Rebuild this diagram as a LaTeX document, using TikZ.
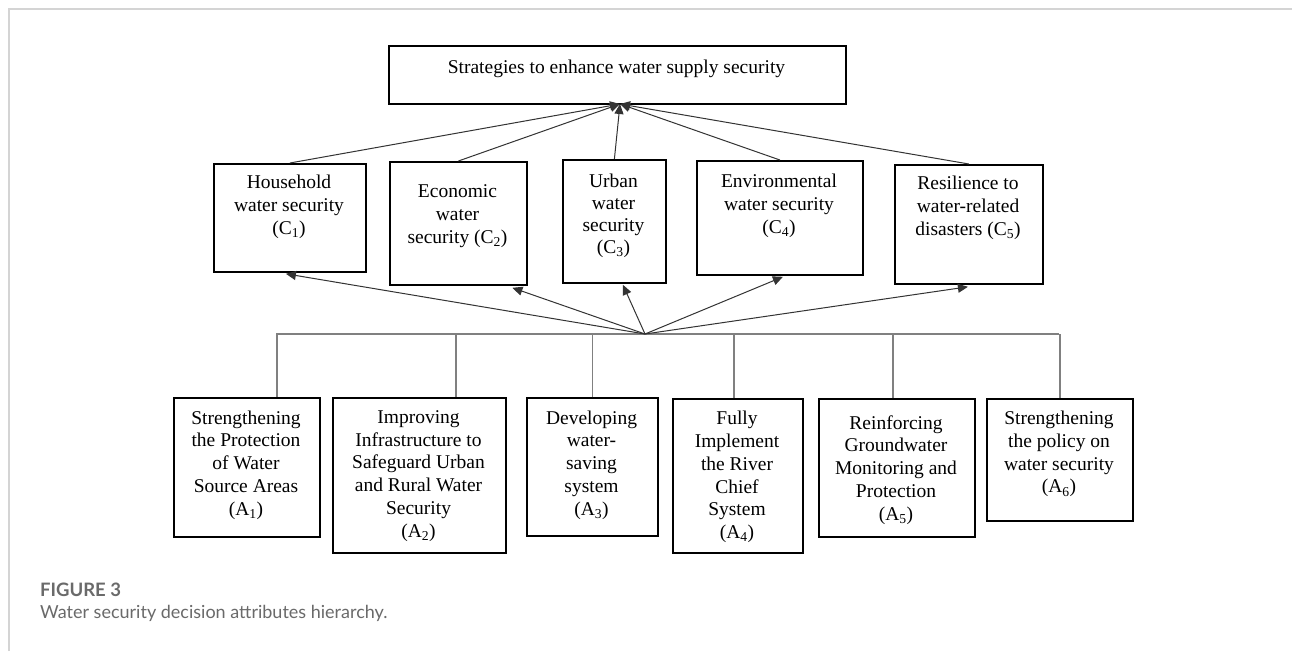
\documentclass[tikz,border=0pt]{standalone}
\usepackage{fontspec}
\setmainfont{Liberation Serif}
\newfontfamily\capfont{Lato}
\usetikzlibrary{arrows.meta}
\definecolor{framegray}{HTML}{D4D4D4}
\definecolor{capgray}{HTML}{6A6A6A}
\begin{document}
\begin{tikzpicture}[x=1pt,y=-1pt,
  box/.style={draw=black, line width=1.8pt, inner sep=0pt, anchor=north west},
  txt/.style={align=center, font=\fontsize{19.5}{22.8}\selectfont, inner sep=0pt},
  arr/.style={draw=black!80, line width=1pt, -{Triangle[length=10pt,width=9pt]}},
  busline/.style={draw=black!50, line width=1.3pt}]
\useasboundingbox (0,0) rectangle (1292,651);
\fill[white] (0,0) rectangle (1292,651);
% frame
\draw[framegray, line width=2pt] (9,651) -- (9,9) -- (1292,9);

% top
\node[box, minimum width=457pt, minimum height=58pt] (top) at (388,45) {};
\node[txt] (topt) at (616.5,69) {Strategies to enhance water supply security};

% criteria
\node[box, minimum width=152pt, minimum height=108pt] (c1) at (213,163) {};
\node[box, minimum width=137pt, minimum height=123pt] (c2) at (389,161) {};
\node[box, minimum width=103pt, minimum height=123pt] (c3) at (562,159) {};
\node[box, minimum width=166pt, minimum height=114pt] (c4) at (696,160) {};
\node[box, minimum width=148pt, minimum height=119pt] (c5) at (894,164) {};
\node[txt] (c1t) at (289,207) {Household\\water security\\(C\textsubscript{1})};
\node[txt] (c2t) at (457.5,216) {Economic\\water\\security (C\textsubscript{2})};
\node[txt, font=\fontsize{19.5}{22}\selectfont] (c3t) at (613.5,216) {Urban\\water\\security\\(C\textsubscript{3})};
\node[txt] (c4t) at (779,206) {Environmental\\water security\\(C\textsubscript{4})};
\node[txt] (c5t) at (968,208) {Resilience to\\water-related\\disasters (C\textsubscript{5})};

% alternatives
\node[box, minimum width=146pt, minimum height=139pt] (a1) at (173,397) {};
\node[box, minimum width=173pt, minimum height=155pt] (a2) at (332,397) {};
\node[box, minimum width=131pt, minimum height=138pt] (a3) at (526,397) {};
\node[box, minimum width=130pt, minimum height=154pt] (a4) at (672,398) {};
\node[box, minimum width=156pt, minimum height=138pt] (a5) at (818,398) {};
\node[box, minimum width=146pt, minimum height=122pt] (a6) at (986,398) {};
\node[txt] (a1t) at (246,465) {Strengthening\\the Protection\\of Water\\Source Areas\\(A\textsubscript{1})};
\node[txt] (a2t) at (418.5,476) {Improving\\Infrastructure to\\Safeguard Urban\\and Rural Water\\Security\\(A\textsubscript{2})};
\node[txt] (a3t) at (591.5,465) {Developing\\water-\\saving\\system\\(A\textsubscript{3})};
\node[txt] (a4t) at (737,477) {Fully\\Implement\\the River\\Chief\\System\\(A\textsubscript{4})};
\node[txt] (a5t) at (896,470) {Reinforcing\\Groundwater\\Monitoring and\\Protection\\(A\textsubscript{5})};
\node[txt] (a6t) at (1059,454) {Strengthening\\the policy on\\water security\\(A\textsubscript{6})};

% hub coordinates
\coordinate (tin) at (620,104);
\coordinate (hub) at (645,334);
\coordinate (busL) at (276,334);
\coordinate (busR) at (1059,334);

% criteria -> goal
\draw[arr] (c1.north) -- (tin);
\draw[arr] (c2.north) -- (tin);
\draw[arr] (c3.north) -- (tin);
\draw[arr] (c4.north) -- (tin);
\draw[arr] (c5.north) -- (tin);

% bus
\draw[busline] (busL) -- (busR);
\draw[busline] ([xshift=30pt]a1.north) -- ([xshift=30pt]a1.north |- hub);
\draw[busline] ([xshift=36.5pt]a2.north) -- ([xshift=36.5pt]a2.north |- hub);
\draw[busline] (a3.north) -- (a3.north |- hub);
\draw[busline] ([xshift=-4pt]a4.north) -- ([xshift=-4pt]a4.north |- hub);
\draw[busline] ([xshift=-4pt]a5.north) -- ([xshift=-4pt]a5.north |- hub);
\draw[busline] (a6.north) -- (a6.north |- hub);

% hub -> criteria
\draw[arr] (hub) -- ([xshift=-4pt,yshift=-1pt]c1.south);
\draw[arr] (hub) -- ([xshift=54pt,yshift=-2pt]c2.south);
\draw[arr] (hub) -- ([xshift=8.5pt,yshift=-1pt]c3.south);
\draw[arr] (hub) -- ([xshift=3pt,yshift=-1pt]c4.south);
\draw[arr] (hub) -- ([xshift=-1pt,yshift=-2pt]c5.south);

% caption
\node[anchor=west, inner sep=0pt, text=capgray, font=\capfont\bfseries\fontsize{18.5}{21}\selectfont] (fig) at (40,590) {FIGURE 3};
\node[anchor=west, inner sep=0pt, text=capgray, font=\capfont\fontsize{18}{21}\selectfont] (cap) at (40,613) {Water security decision attributes hierarchy.};
\end{tikzpicture}
\end{document}
